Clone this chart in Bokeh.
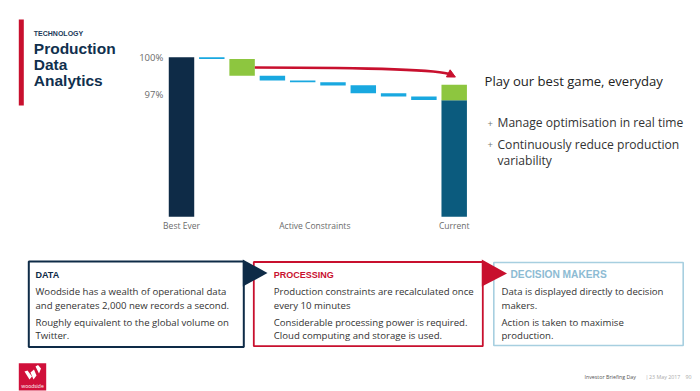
from bokeh.plotting import figure
from bokeh.models import Range1d, Arrow, NormalHead
from bokeh.core.properties import value
from bokeh.embed import file_html
from bokeh.resources import INLINE

# ---------------- data ----------------
step_names = ["Best Ever", "C1", "C2", "C3", "C4", "C5", "C6", "C7", "C8", "Current"]
step_top = [100.0, 100.0, 99.85, 98.52, 98.15, 98.0, 97.77, 97.14, 96.87, 96.58]
step_bottom = [87.3, 99.85, 98.52, 98.15, 98.0, 97.75, 97.14, 96.87, 96.6, 87.3]
step_kind = ["best", "loss", "recoverable", "loss", "loss", "loss", "loss", "loss", "loss", "current"]
recovered_low = [96.58]
recovered_high = [97.8]
axis_labels = ["Best Ever", "Active Constraints", "Current"]
axis_label_pos = [0, 4.4, 9]
ytick_values = [100, 97]
ytick_labels = ["100%", "97%"]

# ---------------- styles / layout ----------------
NAVY = "#0e2b47"
TEAL = "#0b5b7e"
BLUE = "#19a8e0"
GREEN = "#8dc63f"
RED = "#c8102e"
LIGHTBLUE = "#a7cfe0"
GREY = "#6b6b6b"
TXT = "#333333"
kind_color = {"best": NAVY, "loss": BLUE, "recoverable": GREEN, "current": TEAL}
BODY = "Open Sans"
HEAD = "Liberation Sans"

W, H = 700, 391
PX0, PXS = 181.0, 30.3     # page x of first slot centre, pixels per slot
PY100, PYS = 56.7, 12.57   # page y of 100 %, pixels per percent
BAR_W = 0.84

p = figure(width=W, height=H, x_range=Range1d(0, W), y_range=Range1d(H, 0),
           output_backend="svg", toolbar_location=None, min_border=0,
           x_axis_location=None, y_axis_location=None)
p.grid.visible = False
p.outline_line_color = None
p.background_fill_color = "white"
p.border_fill_color = "white"

p.extra_x_ranges = {"wf": Range1d((0 - PX0) / PXS, (W - PX0) / PXS)}
p.extra_y_ranges = {"wf": Range1d(100 - (H - PY100) / PYS, 100 + PY100 / PYS)}

# ---------------- waterfall ----------------
idx = list(range(len(step_names)))
p.vbar(x=idx, width=BAR_W, top=step_top, bottom=step_bottom,
       fill_color=[kind_color[k] for k in step_kind], line_color=None,
       x_range_name="wf", y_range_name="wf")
p.vbar(x=[idx[-1]], width=BAR_W, top=recovered_high, bottom=recovered_low,
       fill_color=GREEN, line_color=None, x_range_name="wf", y_range_name="wf")

# arrow from recoverable loss to current
gi = step_kind.index("recoverable")
sx = gi + BAR_W / 2
sy = (step_top[gi] + step_bottom[gi]) / 2
ex = idx[-1] + 0.04
ey = recovered_high[0] + 0.62
p.bezier(x0=[sx], y0=[sy], x1=[ex - 0.15], y1=[ey + 0.2],
         cx0=[sx + 4.0], cy0=[sy - 0.02], cx1=[ex - 0.5], cy1=[sy - 0.15],
         line_color=RED, line_width=2.4, x_range_name="wf", y_range_name="wf")
p.add_layout(Arrow(end=NormalHead(size=8, fill_color=RED, line_color=RED),
                   x_start=ex - 0.2, y_start=ey + 0.25, x_end=ex, y_end=ey,
                   line_color=RED, line_width=2.4, x_range_name="wf", y_range_name="wf"))

p.text(x=[-0.6] * len(ytick_values), y=ytick_values, text=ytick_labels,
       text_font=value(BODY), text_font_size="9.5px", text_color=GREY,
       text_align="right", text_baseline="middle", x_range_name="wf", y_range_name="wf")
p.text(x=axis_label_pos, y=[86.6] * 3, text=axis_labels,
       text_font=value(BODY), text_font_size="8.5px", text_color=GREY,
       text_align="center", text_baseline="middle", x_range_name="wf", y_range_name="wf")

# ---------------- title block ----------------
p.quad(left=[18.3], right=[23.3], top=[19], bottom=[105], fill_color=RED, line_color=None)
p.text(x=[33.3], y=[33.4], text=["TECHNOLOGY"], text_font=value(HEAD), text_font_style="bold",
       text_font_size="7px", text_color="#1b3a5a", text_baseline="middle")
p.text(x=[33.3] * 3, y=[48.4, 64.4, 80.4], text=["Production", "Data", "Analytics"],
       text_font=value(HEAD), text_font_style="bold", text_font_size="15.5px",
       text_color="#10304e", text_baseline="middle")

# ---------------- right text ----------------
p.text(x=[484], y=[80], text=["Play our best game, everyday"], text_font=value(BODY),
       text_font_size="13.1px", text_color="#222222", text_baseline="middle")
p.text(x=[487, 487], y=[122.5, 144], text=["+", "+"], text_font=value(BODY),
       text_font_size="9.5px", text_color="#777777", text_baseline="middle")
p.text(x=[497] * 3, y=[122, 143.5, 159.5],
       text=["Manage optimisation in real time", "Continuously reduce production", "variability"],
       text_font=value(BODY), text_font_size="12.1px", text_color=TXT, text_baseline="middle")

# ---------------- bottom boxes ----------------
p.quad(left=[28.3, 253.3, 493.3], right=[243.3, 482.3, 682.7], top=[261, 261.5, 262],
       bottom=[346.5, 345.7, 345], fill_color=None,
       line_color=[NAVY, RED, LIGHTBLUE], line_width=[2, 1.8, 1.6])
p.patches(xs=[[242.3, 242.3, 267], [481.3, 481.3, 506.5]],
          ys=[[259, 286, 272.5], [259, 286, 273]],
          fill_color=[NAVY, RED], line_color=None)

p.text(x=[35, 273.3], y=[274] * 2, text=["DATA", "PROCESSING"],
       text_font=value(HEAD), text_font_style="bold", text_font_size="9px",
       text_color=[NAVY, RED], text_baseline="middle")
p.text(x=[510], y=[274], text=["DECISION MAKERS"],
       text_font=value(HEAD), text_font_style="bold", text_font_size="10.2px",
       text_color="#8dbbd3", text_baseline="middle")
ly = [290.5, 304.8, 321.5, 334.8]
p.text(x=[35] * 4, y=ly,
       text=["Woodside has a wealth of operational data", "and generates 2,000 new records a second.",
             "Roughly equivalent to the global volume on", "Twitter."],
       text_font=value(BODY), text_font_size="9.6px", text_color=TXT, text_baseline="middle")
p.text(x=[273.3] * 4, y=ly,
       text=["Production constraints are recalculated once", "every 10 minutes",
             "Considerable processing power is required.", "Cloud computing and storage is used."],
       text_font=value(BODY), text_font_size="9.6px", text_color=TXT, text_baseline="middle")
p.text(x=[501] * 4, y=ly,
       text=["Data is displayed directly to decision", "makers.",
             "Action is taken to maximise", "production."],
       text_font=value(BODY), text_font_size="9.6px", text_color=TXT, text_baseline="middle")

# ---------------- footer ----------------
p.quad(left=[18.3], right=[45.7], top=[362.7], bottom=[390], fill_color="#d0103a", line_color=None)
p.patches(xs=[[24, 29, 31.5, 27], [30, 33, 36, 33.5], [35, 38.5, 40.5, 37.5]],
          ys=[[371, 379, 376, 370], [372, 379, 375, 369], [366, 373, 368, 364.5]],
          fill_color="white", line_color=None)
p.text(x=[32], y=[385], text=["woodside"], text_font=value(BODY), text_font_size="5px",
       text_color="white", text_align="center", text_baseline="middle")
p.text(x=[584], y=[376], text=["Investor Briefing Day"], text_font=value(BODY),
       text_font_size="5.3px", text_color="#555555", text_baseline="middle")
p.text(x=[645, 648.5, 685], y=[376] * 3, text=["|", "23 May 2017", "90"], text_font=value(BODY),
       text_font_size="5.3px", text_color="#aaaaaa", text_baseline="middle")

open("out.html", "w").write(file_html(p, INLINE))
